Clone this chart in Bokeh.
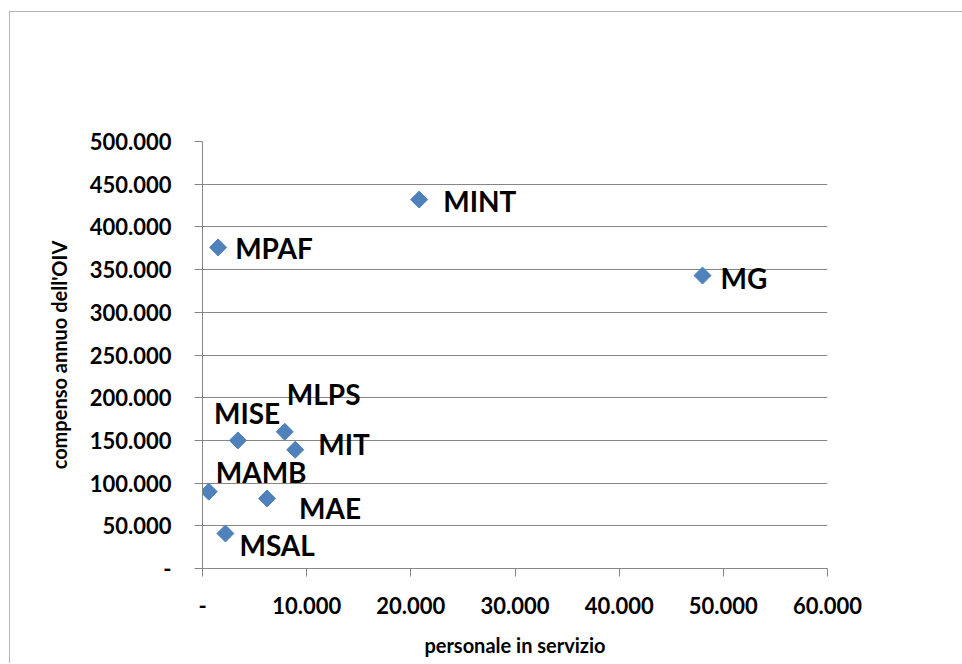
from bokeh.plotting import figure
from bokeh.models import ColumnDataSource, FixedTicker, Range1d
from bokeh.embed import file_html
from bokeh.resources import INLINE
from bokeh.core.properties import value

# Ministries: staff in service vs. annual OIV compensation
ministero = ["MINT", "MG", "MPAF", "MISE", "MLPS", "MIT", "MAMB", "MAE", "MSAL"]
personale = [20800, 48000, 1500, 3400, 7900, 8900, 600, 6200, 2200]
compenso = [432000, 343000, 376000, 150000, 160000, 139000, 90000, 82000, 41000]

x_ticks = [0, 10000, 20000, 30000, 40000, 50000, 60000]
x_tick_labels = ["-", "10.000", "20.000", "30.000", "40.000", "50.000", "60.000"]
y_ticks = [0, 50000, 100000, 150000, 200000, 250000, 300000, 350000, 400000, 450000, 500000]
y_tick_labels = ["-", "50.000", "100.000", "150.000", "200.000", "250.000",
                 "300.000", "350.000", "400.000", "450.000", "500.000"]

# pixel offsets of each data label from its marker
label_dx = [24, 18, 17, -24, 2, 23, 7, 32, 14]
label_dy = [1, 2, 1, -27, -38, -6, -20, 10, 12]

source = ColumnDataSource(dict(x=personale, y=compenso, name=ministero,
                               dx=label_dx, dy=label_dy))

p = figure(width=953, height=652, output_backend="svg", toolbar_location=None,
           x_range=Range1d(0, 60000), y_range=Range1d(0, 500000),
           min_border_left=192, min_border_right=136,
           min_border_top=129, min_border_bottom=96)
p.margin = (11, 0, 0, 9)
p.styles = {"border-top": "1px solid #b4b4b4", "border-left": "1px solid #b4b4b4"}

p.outline_line_color = None
p.background_fill_color = "white"
p.border_fill_color = "white"

grey = "#868686"
font = "Lato"

p.xgrid.grid_line_color = None
p.ygrid.grid_line_color = grey
p.ygrid.grid_line_width = 1

p.xaxis.ticker = FixedTicker(ticks=x_ticks)
p.yaxis.ticker = FixedTicker(ticks=y_ticks)
p.xaxis.major_label_overrides = dict(zip(x_ticks, x_tick_labels))
p.yaxis.major_label_overrides = dict(zip(y_ticks, y_tick_labels))

for ax in (p.xaxis, p.yaxis):
    ax.axis_line_color = grey
    ax.major_tick_line_color = grey
    ax.major_tick_out = 8
    ax.major_tick_in = 0
    ax.minor_tick_line_color = None
    ax.major_label_text_font = font
    ax.major_label_text_font_style = "bold"
    ax.major_label_text_font_size = "22px"
    ax.major_label_text_color = "black"
    ax.axis_label_text_font = font
    ax.axis_label_text_font_style = "bold"
    ax.axis_label_text_color = "black"

p.xaxis.major_label_standoff = 20
p.yaxis.major_label_standoff = 23
p.xaxis.axis_label = "personale in servizio"
p.yaxis.axis_label = "compenso annuo dell'OIV"
p.xaxis.axis_label_text_font_size = "20px"
p.yaxis.axis_label_text_font_size = "20px"
p.xaxis.axis_label_standoff = 16
p.yaxis.axis_label_standoff = 16

p.scatter("x", "y", source=source, marker="square", size=12, angle=0.785398,
          fill_color="#4F81BD", line_color="#4F81BD")

p.text("x", "y", text="name", source=source, x_offset="dx", y_offset="dy",
       text_font=value(font), text_font_style="bold", text_font_size="28px",
       text_align="left", text_baseline="middle", text_color="black")

open("out.html", "w").write(file_html(p, INLINE))
